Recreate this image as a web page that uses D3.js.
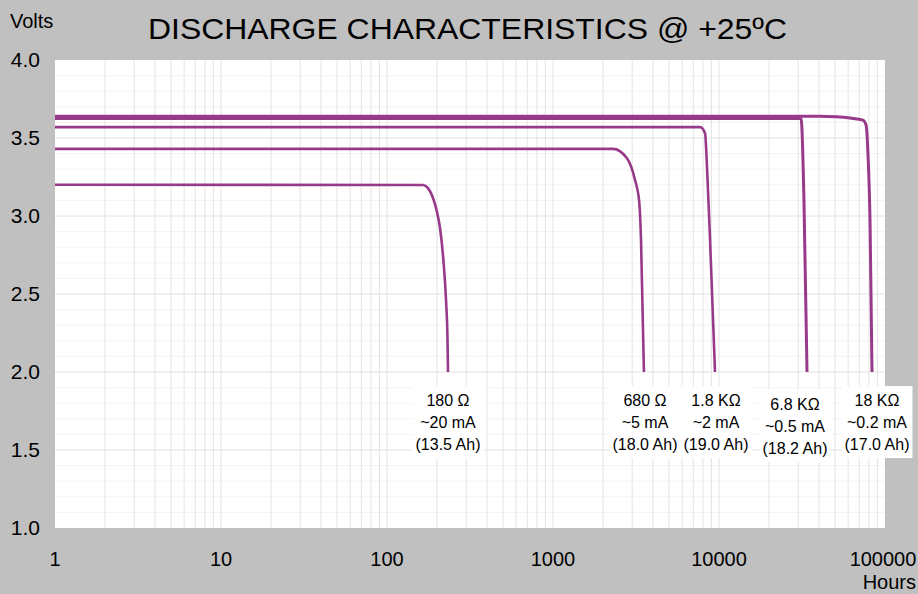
<!DOCTYPE html>
<html>
<head>
<meta charset="utf-8">
<script src="https://cdn.jsdelivr.net/npm/d3@7"></script>
<style>
  html, body { margin: 0; padding: 0; background: #c0c0c0; }
  svg { display: block; font-family: "Liberation Sans", Arial, sans-serif; }
</style>
</head>
<body>
<svg id="chart" width="918" height="594"></svg>
<script>
// hours vs volts for each load
const c180 = [[1, 3.2], [165, 3.199], [176.6, 3.179], [189.3, 3.115], [200.1, 3.026], [208.6, 2.923], [214.5, 2.814], [220.5, 2.667], [226.7, 2.462], [231.5, 2.205], [233.1, 2.0]];
const c680 = [[1, 3.43], [2300, 3.43], [2790, 3.37], [3120, 3.23], [3300, 3.1], [3390, 2.85], [3530, 2.0]];
const c1k8 = [[1, 3.57], [7700, 3.57], [8240, 3.53], [8470, 3.31], [8830, 2.85], [9460, 2.0]];
const c6k8 = [[1, 3.625], [31200, 3.625], [32500, 3.1], [33900, 2.0]];
const c18k = [[1, 3.64], [40600, 3.64], [50700, 3.636], [61500, 3.628], [73700, 3.615], [76900, 3.583], [79100, 3.38], [81300, 2.95], [83500, 2.0]];
const curves = [c180, c680, c1k8, c6k8, c18k];

const labels = [
  ["180 \u03A9", "~20 mA", "(13.5 Ah)"],
  ["680 \u03A9", "~5 mA", "(18.0 Ah)"],
  ["1.8 K\u03A9", "~2 mA", "(19.0 Ah)"],
  ["6.8 K\u03A9", "~0.5 mA", "(18.2 Ah)"],
  ["18 K\u03A9", "~0.2 mA", "(17.0 Ah)"]
];
const yTicks = [1.0, 1.5, 2.0, 2.5, 3.0, 3.5, 4.0];
const xTicks = [1, 10, 100, 1000, 10000, 100000];

const svg = d3.select("#chart");
const pl = 55, pr = 885, pt = 60, pb = 528;

const x = d3.scaleLog().domain([1, 100000]).range([pl, pr]);
const y = d3.scaleLinear().domain([1, 4]).range([pb, pt]);

svg.append("rect").attr("width", 918).attr("height", 594).attr("fill", "#c0c0c0");
svg.append("rect")
  .attr("x", pl).attr("y", pt)
  .attr("width", pr - pl).attr("height", pb - pt)
  .attr("fill", "#fff");

// minor horizontal grid
svg.append("g").selectAll("line")
  .data(d3.range(1.1, 4.0, 0.1).filter(v => Math.abs(v * 2 - Math.round(v * 2)) > 0.01))
  .join("line")
  .attr("x1", pl).attr("x2", pr)
  .attr("y1", d => y(d)).attr("y2", d => y(d))
  .attr("stroke", "#f4f4f4").attr("stroke-width", 1);

// vertical log grid
const minor = [];
for (let e = 0; e < 5; e++) for (let m = 1; m <= 9; m++) minor.push(m * Math.pow(10, e));
svg.append("g").selectAll("line")
  .data(minor.slice(1))
  .join("line")
  .attr("x1", d => x(d)).attr("x2", d => x(d))
  .attr("y1", pt).attr("y2", pb)
  .attr("stroke", "#e4e4e4").attr("stroke-width", 1);

// major horizontal grid
svg.append("g").selectAll("line")
  .data(yTicks.slice(1, -1))
  .join("line")
  .attr("x1", pl).attr("x2", pr)
  .attr("y1", d => y(d)).attr("y2", d => y(d))
  .attr("stroke", "#e2e2e2").attr("stroke-width", 1);

const line = d3.line().x(d => x(d[0])).y(d => y(d[1])).curve(d3.curveMonotoneX);

svg.append("g").selectAll("path")
  .data(curves)
  .join("path")
  .attr("d", line)
  .attr("fill", "none")
  .attr("stroke", "#983a8a")
  .attr("stroke-width", (d, i) => i >= 3 ? 3 : 2.6);

// axis tick labels
svg.append("g").selectAll("text")
  .data(yTicks)
  .join("text")
  .attr("x", 40).attr("y", d => y(d))
  .attr("dy", "0.35em")
  .attr("text-anchor", "end")
  .attr("font-size", 21)
  .text(d => d.toFixed(1));

svg.append("g").selectAll("text")
  .data(xTicks)
  .join("text")
  .attr("x", (d, i) => i === xTicks.length - 1 ? 883 : x(d))
  .attr("y", 559).attr("dy", "0.35em")
  .attr("text-anchor", "middle")
  .attr("font-size", 20)
  .text(d => d);

svg.append("text").attr("x", 10).attr("y", 28).attr("font-size", 20).text("Volts");
svg.append("text").attr("x", 916).attr("y", 589).attr("text-anchor", "end").attr("font-size", 20).text("Hours");

svg.append("text")
  .attr("x", 148).attr("y", 39)
  .attr("font-size", 30)
  .attr("textLength", 639)
  .attr("lengthAdjust", "spacingAndGlyphs")
  .text("DISCHARGE CHARACTERISTICS @ +25\u00BAC");

// curve labels with white boxes
const lab = svg.append("g").attr("font-size", 16).attr("text-anchor", "middle");
const labelY = [400, 400, 400, 404, 400];
const labelX = [448, 645, 716, 795, 877];
labels.forEach((lines, i) => {
  const g = lab.append("g");
  const t = g.selectAll("text").data(lines).join("text")
    .attr("x", labelX[i])
    .attr("y", (d, j) => labelY[i] + j * 22.2)
    .attr("dy", "0.35em")
    .text(d => d);
  let w = 0;
  t.each(function () { w = Math.max(w, this.getComputedTextLength()); });
  g.insert("rect", "text")
    .attr("x", labelX[i] - w / 2 - 3).attr("y", labelY[i] - 14)
    .attr("width", w + 6).attr("height", 72)
    .attr("fill", "#fff");
});
</script>
</body>
</html>
